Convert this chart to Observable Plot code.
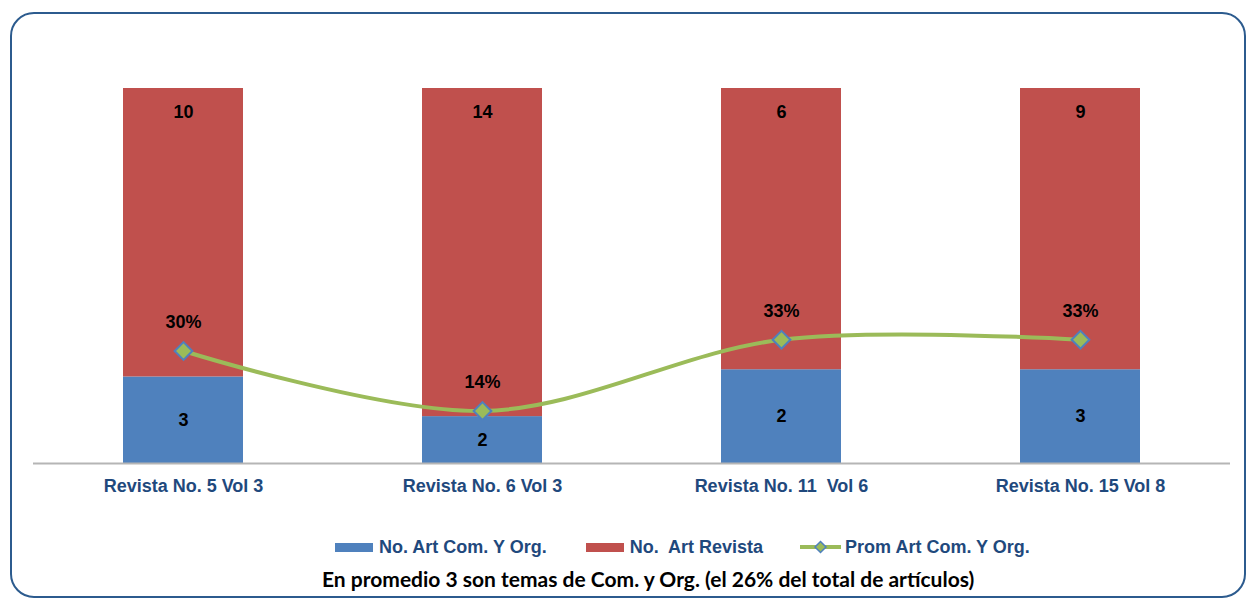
<!DOCTYPE html>
<html><head><meta charset="utf-8">
<script src="https://cdn.jsdelivr.net/npm/d3@7"></script>
<script src="https://cdn.jsdelivr.net/npm/@observablehq/plot@0.6"></script>
<style>
body{margin:0;background:#fff;}
#wrap{position:relative;width:1246px;height:599px;overflow:hidden;font-family:"Liberation Sans",Arial,sans-serif;}
#frame{position:absolute;left:10px;top:12px;width:1236px;height:586px;border:2.5px solid #2c5b8e;border-radius:24px;box-sizing:border-box;}
#chart{position:absolute;left:0;top:0;}
#chart svg text{white-space:pre;}
#legend{position:absolute;left:335px;top:536px;height:22px;display:flex;align-items:center;font-weight:bold;font-size:18px;color:#1f497d;white-space:pre;}
#legend .sw{width:38px;height:9px;margin-right:6px;}
#legend .item{display:flex;align-items:center;}
#caption{position:absolute;left:322px;top:566px;font-family:Lato,"Open Sans",sans-serif;font-weight:bold;font-size:21px;color:#000;white-space:nowrap;}
</style></head>
<body>
<div id="wrap">
<div id="frame"></div>
<div id="chart"></div>
<div id="legend"></div>
<div id="caption"></div>
</div>
<script>
const categories = ["Revista No. 5 Vol 3", "Revista No. 6 Vol 3", "Revista No. 11  Vol 6", "Revista No. 15 Vol 8"];
const comOrg = [3, 2, 2, 3];
const revista = [10, 14, 6, 9];
const prom = [0.30, 0.14, 0.33, 0.33];
const promLabels = ["30%", "14%", "33%", "33%"];
const seriesNames = ["No. Art Com. Y Org.", "No.  Art Revista", "Prom Art Com. Y Org."];
const colors = ["#4f81bd", "#c0504d", "#9bbb59"];
const captionText = "En promedio 3 son temas de Com. y Org. (el 26% del total de artículos)";

const rows = [];
categories.forEach((c, i) => {
  rows.push({cat: c, series: seriesNames[0], value: comOrg[i]});
  rows.push({cat: c, series: seriesNames[1], value: revista[i]});
});
const lineRows = categories.map((c, i) => ({cat: c, value: prom[i], label: promLabels[i]}));

const chart = Plot.plot({
  width: 1246,
  height: 505,
  marginTop: 88,
  marginBottom: 42,
  marginLeft: 33,
  marginRight: 16,
  style: {fontFamily: "Liberation Sans, Arial, sans-serif", background: "transparent"},
  x: {domain: categories, paddingInner: 0.6, paddingOuter: 0.3, axis: null},
  y: {domain: [0, 1], axis: null},
  color: {domain: seriesNames.slice(0, 2), range: colors.slice(0, 2)},
  marks: [
    Plot.barY(rows, Plot.stackY({offset: "normalize", order: null, x: "cat", y: "value", fill: "series"})),
    Plot.ruleY([0], {stroke: "#b5b5b5", strokeWidth: 2}),
    Plot.text(rows, Plot.stackY({offset: "normalize", order: null, x: "cat", y: "value", z: "series", text: d => d.series === seriesNames[0] ? String(d.value) : "", fontSize: 18, fontWeight: "bold", fill: "#000"})),
    Plot.text(rows, Plot.stackY2({offset: "normalize", order: null, x: "cat", y: "value", z: "series", text: d => d.series === seriesNames[1] ? String(d.value) : "", fontSize: 18, fontWeight: "bold", fill: "#000", dy: 24})),
    Plot.line(lineRows, {x: "cat", y: "value", stroke: colors[2], strokeWidth: 4, curve: "catmull-rom"}),
    Plot.dot(lineRows, {x: "cat", y: "value", symbol: "diamond2", r: 8, fill: colors[2], stroke: "#4f81bd", strokeWidth: 2}),
    Plot.text(lineRows, {x: "cat", y: "value", text: "label", fontSize: 18, fontWeight: "bold", fill: "#000", dy: -29}),
    Plot.text(categories, {x: d => d, text: d => d, frameAnchor: "bottom", dy: 28, fontSize: 18, fontWeight: "bold", fill: "#1f497d"})
  ]
});
document.getElementById("chart").appendChild(chart);

const legend = document.getElementById("legend");
const gaps = [39, 37, 0];
seriesNames.forEach((name, i) => {
  const item = document.createElement("div");
  item.className = "item";
  item.style.marginRight = gaps[i] + "px";
  if (i < 2) {
    const sw = document.createElement("div");
    sw.className = "sw";
    sw.style.background = colors[i];
    item.appendChild(sw);
  } else {
    const ns = "http://www.w3.org/2000/svg";
    const s = document.createElementNS(ns, "svg");
    s.setAttribute("width", 41); s.setAttribute("height", 14);
    s.style.marginRight = "4px";
    const l = document.createElementNS(ns, "line");
    l.setAttribute("x1", 0); l.setAttribute("x2", 41); l.setAttribute("y1", 7); l.setAttribute("y2", 7);
    l.setAttribute("stroke", colors[2]); l.setAttribute("stroke-width", 4);
    s.appendChild(l);
    const p = document.createElementNS(ns, "path");
    p.setAttribute("d", "M20.5,1.5L26,7L20.5,12.5L15,7Z");
    p.setAttribute("fill", colors[2]); p.setAttribute("stroke", "#4f81bd"); p.setAttribute("stroke-width", 1.5);
    s.appendChild(p);
    item.appendChild(s);
  }
  const t = document.createElement("span");
  t.textContent = name;
  item.appendChild(t);
  legend.appendChild(item);
});
document.getElementById("caption").textContent = captionText;
</script>
</body></html>
